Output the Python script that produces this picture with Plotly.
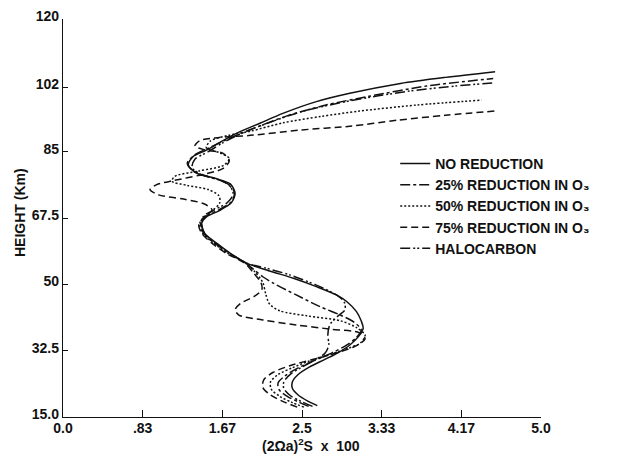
import plotly.graph_objects as go

# ---- data (x = (2Ωa)^2 S x 100, h = height in km) ----
x_tick_vals = [0.0, 0.833, 1.667, 2.5, 3.333, 4.167, 5.0]
x_tick_text = ["0.0", ".83", "1.67", "2.5", "3.33", "4.17", "5.0"]
y_tick_vals = [15.0, 32.5, 50.0, 67.5, 85.0, 102.0, 120.0]
y_tick_text = ["15.0", "32.5", "50", "67.5", "85", "102", "120"]

no_red_x = [2.66, 2.56, 2.46, 2.40, 2.40, 2.46, 2.58, 2.74, 2.88, 3.00, 3.09, 3.14, 3.12, 3.07, 2.97, 2.86, 2.65, 2.41, 2.15, 1.92,
            1.75, 1.61, 1.48, 1.45, 1.50, 1.63, 1.76, 1.80, 1.75, 1.60, 1.40, 1.31, 1.36, 1.50, 1.63, 1.82, 2.06, 2.30, 2.65, 3.00, 3.53, 4.00, 4.52]
no_red_h = [18.0, 19.2, 20.8, 22.5, 24.3, 26.2, 28.2, 30.2, 32.0, 34.0, 36.2, 38.4, 40.3, 42.8, 45.4, 47.2, 49.4, 51.6, 53.6, 55.6,
            58.2, 60.8, 63.5, 66.0, 67.8, 69.4, 71.5, 74.0, 76.5, 77.9, 79.3, 81.5, 83.7, 85.4, 87.3, 89.9, 92.5, 95.1, 98.2, 100.4, 103.0, 104.6, 106.1]

red25_x = [2.57, 2.47, 2.35, 2.26, 2.25, 2.33, 2.47, 2.64, 2.82, 2.97, 3.07, 3.12, 3.04, 2.90, 2.69, 2.44, 2.20, 2.09, 1.99, 1.91,
           1.74, 1.59, 1.47, 1.44, 1.50, 1.64, 1.77, 1.79, 1.70, 1.53, 1.36, 1.30, 1.38, 1.53, 1.72, 2.00, 2.35, 2.75, 3.20, 3.80, 4.50]
red25_h = [17.8, 18.9, 20.4, 22.2, 24.0, 26.0, 28.1, 30.0, 32.0, 34.0, 36.0, 38.0, 40.1, 41.9, 44.1, 47.2, 50.3, 52.0, 54.0, 55.6,
           58.2, 60.8, 63.5, 66.2, 68.0, 69.8, 72.0, 74.5, 76.8, 78.3, 79.9, 82.0, 84.2, 86.0, 88.3, 91.2, 94.5, 97.3, 99.6, 102.3, 104.3]

red50_x = [2.52, 2.40, 2.27, 2.18, 2.17, 2.25, 2.40, 2.58, 2.78, 2.97, 3.11, 3.16, 3.07, 2.90, 2.55, 2.27, 2.16, 2.12, 2.09, 2.00, 1.91,
           1.73, 1.58, 1.46, 1.43, 1.47, 1.56, 1.64, 1.63, 1.52, 1.30, 1.14, 1.17, 1.42, 1.68, 1.74, 1.64, 1.50, 1.54, 1.73, 1.96,
           2.30, 2.70, 3.10, 3.70, 4.38]
red50_h = [17.6, 18.8, 20.4, 22.3, 24.2, 26.2, 28.0, 29.8, 31.4, 33.0, 34.5, 36.6, 38.6, 40.4, 41.7, 43.0, 44.8, 47.5, 50.5, 53.5, 55.6,
           58.1, 60.8, 63.5, 66.0, 67.6, 69.4, 71.5, 73.4, 75.0, 76.1, 77.2, 78.5, 79.9, 81.4, 83.2, 84.7, 86.0, 87.8, 89.3, 90.4,
           92.6, 94.3, 95.7, 97.3, 98.6]

red75_x = [2.45, 2.31, 2.17, 2.09, 2.10, 2.20, 2.38, 2.60, 2.85, 3.05, 3.16, 3.10, 2.79, 2.44, 2.09, 1.84, 1.80, 1.86, 2.00, 2.08, 2.07, 2.00, 1.90,
           1.72, 1.56, 1.45, 1.42, 1.48, 1.56, 1.48, 1.26, 1.00, 0.91, 0.98, 1.16, 1.43, 1.67, 1.74, 1.67, 1.48, 1.38, 1.43, 1.62, 1.96,
           2.48, 3.00, 3.50, 4.00, 4.55]
red75_h = [17.6, 19.0, 20.8, 22.8, 24.8, 26.8, 28.6, 30.1, 31.8, 33.6, 35.6, 37.2, 38.2, 39.3, 40.6, 41.9, 43.3, 45.0, 46.8, 48.6, 50.5, 52.8, 55.6,
           58.0, 60.8, 63.5, 65.8, 67.8, 69.6, 71.2, 72.5, 73.6, 75.0, 76.3, 77.4, 78.8, 80.5, 82.6, 84.6, 85.5, 86.5, 87.9, 88.7, 89.3,
           90.7, 91.7, 93.3, 94.6, 95.8]

halo_x = [2.61, 2.50, 2.38, 2.31, 2.31, 2.38, 2.50, 2.63, 2.74, 2.78, 2.77, 2.79, 2.87, 2.95, 2.94, 2.86, 2.65, 2.37, 2.12, 1.92,
          1.74, 1.60, 1.48, 1.45, 1.47, 1.58, 1.72, 1.78, 1.74, 1.62, 1.45, 1.35, 1.38, 1.52, 1.67, 1.88, 2.15, 2.50, 3.00, 3.60, 4.10, 4.52]
halo_h = [17.8, 19.0, 20.6, 22.5, 24.3, 26.3, 28.2, 30.0, 31.8, 34.0, 36.6, 39.3, 41.5, 43.3, 45.4, 47.2, 49.8, 52.5, 54.3, 55.6,
          58.2, 60.8, 63.5, 66.2, 68.0, 69.6, 71.6, 73.8, 76.2, 77.7, 78.9, 80.8, 83.0, 85.0, 87.3, 90.0, 92.6, 95.6, 98.4, 100.9, 102.3, 103.2]

series_names = ["NO REDUCTION", "25% REDUCTION IN O\u2083", "50% REDUCTION IN O\u2083",
                "75% REDUCTION IN O\u2083", "HALOCARBON"]
series_x = [no_red_x, red25_x, red50_x, red75_x, halo_x]
series_h = [no_red_h, red25_h, red50_h, red75_h, halo_h]
series_dash = ["solid", "10px,3px,3px,3px", "2px,2px", "7px,4px", "10px,3px,2px,2px,2px,3px"]

INK = "#111111"
FONT = "Liberation Sans, Arial, sans-serif"
TXT = dict(size=14, family=FONT, color=INK, weight="bold")

fig = go.Figure()
for name, xs, hs, dash in zip(series_names, series_x, series_h, series_dash):
    fig.add_trace(go.Scatter(
        x=xs, y=hs, mode="lines", name=name,
        line=dict(color=INK, width=1.5, dash=dash, shape="spline", smoothing=0.8),
    ))

# page body has an 8px default margin, so the figure is offset by 8px
fig.update_layout(
    width=612, height=448,
    margin=dict(l=55, r=79, t=11, b=39, autoexpand=False),
    paper_bgcolor="white", plot_bgcolor="white",
    font=TXT,
    showlegend=True,
    legend=dict(x=0.695, y=0.676, xanchor="left", yanchor="top",
                bgcolor="rgba(0,0,0,0)", font=TXT, tracegroupgap=0),
    xaxis=dict(range=[0, 5], tickvals=x_tick_vals, ticktext=x_tick_text, automargin=False,
               showgrid=False, zeroline=False, showline=True, linecolor=INK, linewidth=1.3,
               ticks="inside", ticklen=7, tickwidth=1.2, tickcolor=INK,
               ticklabelstandoff=-2, tickfont=TXT),
    yaxis=dict(range=[15, 120], tickvals=y_tick_vals, ticktext=y_tick_text, automargin=False,
               showgrid=False, zeroline=False, showline=True, linecolor=INK, linewidth=1.3,
               ticks="inside", ticklen=5, tickwidth=1.2, tickcolor=INK,
               ticklabelshift=-3, ticklabeloverflow="allow", tickfont=TXT),
    annotations=[
        dict(text="HEIGHT (Km)", xref="paper", yref="paper", x=-0.09, y=0.515,
             textangle=-90, showarrow=False, xanchor="center", yanchor="middle",
             font=TXT),
        dict(text="(2Ωa)<sup>2</sup>S  x  100", xref="paper", yref="paper", x=0.519, y=-0.098,
             showarrow=False, xanchor="center", yanchor="bottom",
             font=TXT),
    ],
)

fig.write_html("out.html")
